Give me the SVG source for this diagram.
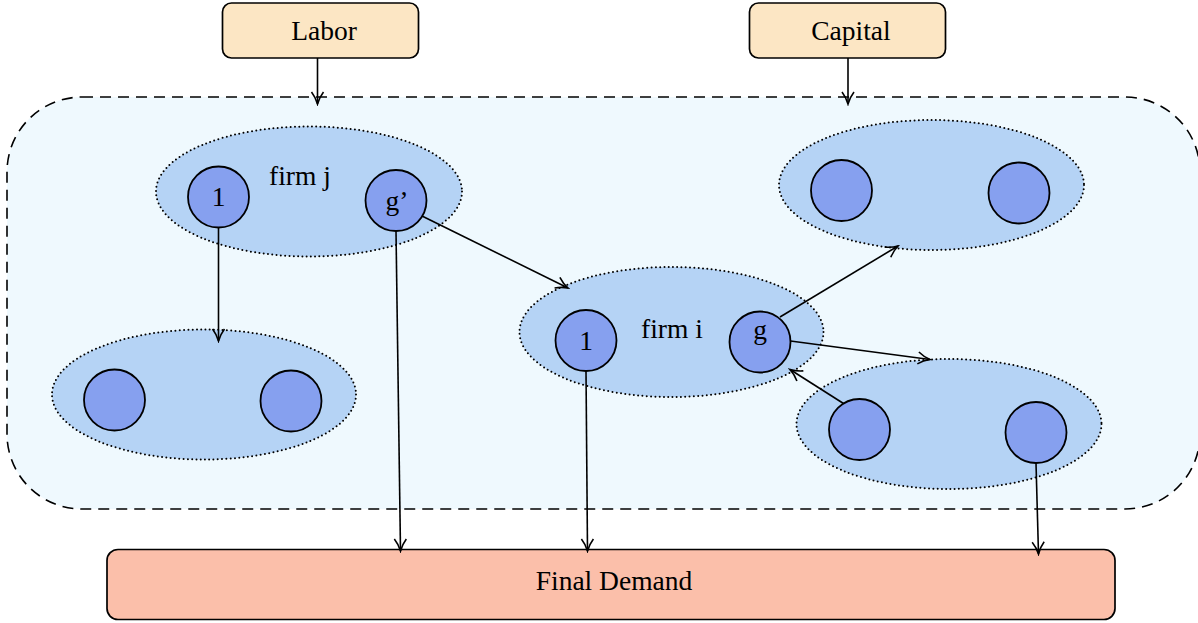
<svg xmlns="http://www.w3.org/2000/svg" width="1198" height="623" viewBox="0 0 1198 623">
<defs>
<style>
text{font-family:"Liberation Serif","Times New Roman",serif;font-size:27.5px;fill:#000;text-anchor:middle}
.src{fill:#FCE6C4;stroke:#000;stroke-width:1.7}
.sink{fill:#FBBFAA;stroke:#000;stroke-width:1.7}
.grp{fill:#B5D3F5;stroke:#000;stroke-width:2;stroke-dasharray:0 4.3;stroke-linecap:round}
.firm{fill:#86A0EF;stroke:#000;stroke-width:1.8}
.edge{fill:none;stroke:#000;stroke-width:1.6;marker-end:url(#arr)}
</style>
<marker id="arr" markerUnits="userSpaceOnUse" viewBox="-14 -8 16 16" refX="0" refY="0" markerWidth="16" markerHeight="16" orient="auto">
<path d="M-12,-6 C-7,-2.2 -2.5,-0.7 0,0 C-2.5,0.7 -7,2.2 -12,6" fill="none" stroke="#000" stroke-width="1.6"/>
</marker>
</defs>
<rect id="economy" x="7" y="97" width="1193" height="412" rx="75" ry="75" fill="#EFF9FE" stroke="#000" stroke-width="1.6" stroke-dasharray="11 7"/>
<g id="labor"><rect class="src" x="222.5" y="3" width="196" height="55" rx="9"/><text x="324" y="40">Labor</text></g>
<g id="capital"><rect class="src" x="749.5" y="3" width="196" height="55" rx="9"/><text x="851" y="40">Capital</text></g>
<g id="final-demand"><rect class="sink" x="107" y="549.5" width="1008" height="70" rx="11"/><text x="614" y="590">Final Demand</text></g>
<g id="firm-j">
<ellipse class="grp" cx="309" cy="191.5" rx="153" ry="65"/>
<text x="300" y="185">firm j</text>
<circle class="firm" cx="218.5" cy="197" r="30.5"/><text x="218.5" y="206">1</text>
<circle class="firm" cx="396" cy="200.5" r="30.5"/><text x="397" y="210">g’</text>
</g>
<g id="group-bl">
<ellipse class="grp" cx="204" cy="394.5" rx="152" ry="65"/>
<circle class="firm" cx="114.5" cy="400" r="30.5"/>
<circle class="firm" cx="291" cy="401" r="30.5"/>
</g>
<g id="firm-i">
<ellipse class="grp" cx="671.5" cy="332" rx="152" ry="65"/>
<text x="672" y="338">firm i</text>
<circle class="firm" cx="586" cy="340.5" r="30.5"/><text x="586" y="350">1</text>
<circle class="firm" cx="760" cy="342" r="30.5"/><text x="760" y="339">g</text>
</g>
<g id="group-tr">
<ellipse class="grp" cx="931.5" cy="185" rx="152.5" ry="65"/>
<circle class="firm" cx="841.5" cy="190.5" r="30.5"/>
<circle class="firm" cx="1019" cy="193" r="30.5"/>
</g>
<g id="group-br">
<ellipse class="grp" cx="949" cy="424" rx="152.5" ry="65"/>
<circle class="firm" cx="859.5" cy="429.5" r="30.5"/>
<circle class="firm" cx="1036" cy="432.5" r="30.5"/>
</g>
<g id="connectors">
<line class="edge" x1="317.5" y1="58" x2="317.5" y2="104"/>
<line class="edge" x1="848" y1="58" x2="848" y2="104"/>
<line class="edge" x1="218.5" y1="227.5" x2="218.5" y2="341"/>
<line class="edge" x1="422" y1="216" x2="568" y2="288"/>
<line class="edge" x1="396" y1="231" x2="400.5" y2="551"/>
<line class="edge" x1="586" y1="371" x2="587.5" y2="551"/>
<line class="edge" x1="780" y1="317" x2="898" y2="246"/>
<line class="edge" x1="790.5" y1="341" x2="930" y2="359.5"/>
<line class="edge" x1="843.5" y1="403.5" x2="790" y2="369.5"/>
<line class="edge" x1="1036" y1="463" x2="1038.5" y2="554"/>
</g>
</svg>
